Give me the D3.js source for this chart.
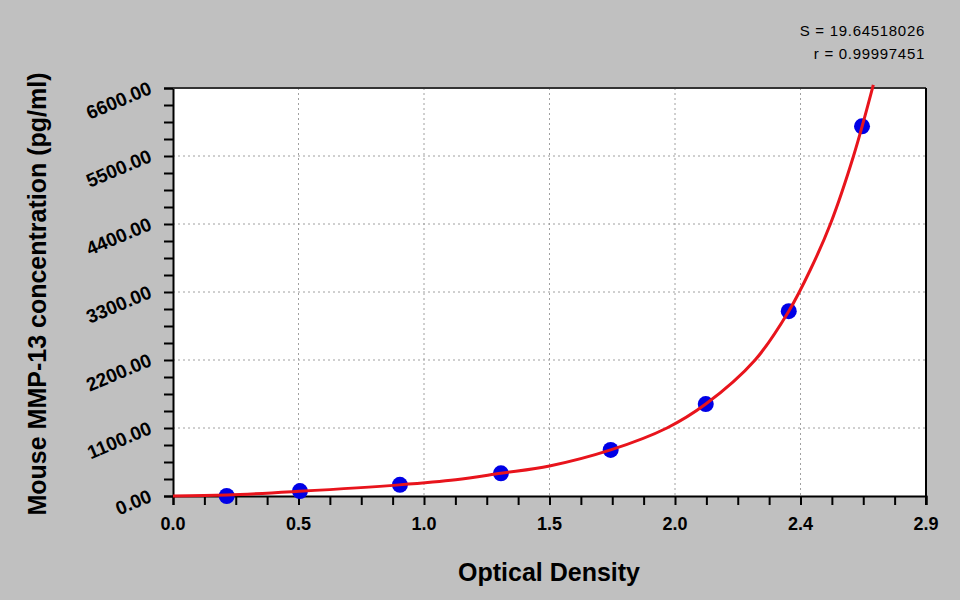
<!DOCTYPE html>
<html>
<head>
<meta charset="utf-8">
<script src="https://cdn.jsdelivr.net/npm/d3@7"></script>
<style>
  body { margin: 0; background: #c0c0c0; }
  svg { display: block; font-family: "Liberation Sans", Arial, sans-serif; }
</style>
</head>
<body>
<div id="graph_01"></div>
<script>
// Standard points (OD, concentration)
const pointOD = [0.209, 0.494, 0.883, 1.276, 1.703, 2.073, 2.396, 2.681];
const pointConc = [0, 80, 180, 367, 745, 1487, 2990, 5980];

// Fitted curve
const curveOD = [0.00, 0.21, 0.49, 0.88, 1.10, 1.276, 1.465, 1.703, 1.922, 2.073, 2.265, 2.396, 2.48, 2.558, 2.648, 2.725];
const curveConc = [0, 15, 75, 180, 262, 367, 485, 745, 1100, 1487, 2200, 2990, 3660, 4400, 5500, 6650];

// Axes
const xTicks = [0, 1, 2, 3, 4, 5, 6].map(i => i * 2.93 / 6);
const yTicks = [0, 1100, 2200, 3300, 4400, 5500, 6600];
const statLines = ['S = 19.64518026', 'r = 0.99997451'];

const width = 960;
const height = 600;
const margin = { top: 88, right: 34, bottom: 104, left: 173 };

const svg = d3.select('#graph_01')
  .append('svg')
  .attr('width', width)
  .attr('height', height);

svg.append('rect')
  .attr('width', width)
  .attr('height', height)
  .attr('fill', '#c0c0c0');

//---------------------------------------------------------------------------------------

// Échelles

const scaleX = d3.scaleLinear()
  .domain([0, 2.93])
  .range([margin.left, width - margin.right]);

const scaleY = d3.scaleLinear()
  .domain([0, 6600])
  .range([height - margin.bottom, margin.top]);

const x0 = scaleX.range()[0], x1 = scaleX.range()[1];
const y0 = scaleY.range()[0], y1 = scaleY.range()[1];

// fond blanc du graphe
svg.append('rect')
  .attr('x', x0)
  .attr('y', y1)
  .attr('width', x1 - x0)
  .attr('height', y0 - y1)
  .attr('fill', '#fff');

//---------------------------------------------------------------------------------------

// Grille pointillée

svg.append('g')
  .selectAll('line')
  .data(xTicks.slice(1, -1))
  .join('line')
  .attr('x1', d => scaleX(d)).attr('x2', d => scaleX(d))
  .attr('y1', y1).attr('y2', y0)
  .attr('stroke', '#a0a0a0')
  .attr('stroke-dasharray', '2,3');

svg.append('g')
  .selectAll('line')
  .data(yTicks.slice(1, -1))
  .join('line')
  .attr('x1', x0).attr('x2', x1)
  .attr('y1', d => scaleY(d)).attr('y2', d => scaleY(d))
  .attr('stroke', '#a0a0a0')
  .attr('stroke-dasharray', '2,3');

//---------------------------------------------------------------------------------------

// Axes

const xMinor = d3.range(0, 25).map(i => i * 2.93 / 24);
const yMinor = d3.range(0, 25).map(i => i * 6600 / 24);

const axisX = svg.append('g')
  .attr('transform', `translate(0,${y0})`)
  .call(d3.axisBottom(scaleX).tickValues(xMinor).tickSize(9).tickFormat(''));
axisX.select('.domain').attr('stroke-width', 2);
axisX.selectAll('.tick line').attr('stroke-width', 2);

svg.append('g')
  .selectAll('text')
  .data(xTicks)
  .join('text')
  .attr('x', d => scaleX(d))
  .attr('y', y0 + 34)
  .attr('text-anchor', 'middle')
  .attr('font-size', 18)
  .attr('font-weight', 'bold')
  .text(d => d3.format('.1f')(d));

const axisY = svg.append('g')
  .attr('transform', `translate(${x0},0)`)
  .call(d3.axisLeft(scaleY).tickValues(yMinor).tickSize(9).tickFormat(''));
axisY.select('.domain').attr('stroke-width', 2);
axisY.selectAll('.tick line').attr('stroke-width', 2);

svg.append('g')
  .selectAll('text')
  .data(yTicks)
  .join('text')
  .attr('transform', d => `translate(${x0 - 20},${scaleY(d) + 5}) rotate(-23)`)
  .attr('text-anchor', 'end')
  .attr('font-size', 19)
  .attr('font-weight', 'bold')
  .text(d => d3.format('.2f')(d));

// cadre haut et droit
svg.append('line')
  .attr('x1', x0).attr('x2', x1)
  .attr('y1', y1).attr('y2', y1)
  .attr('stroke', '#333').attr('stroke-width', 2);
svg.append('line')
  .attr('x1', x1).attr('x2', x1)
  .attr('y1', y1).attr('y2', y0 + 9)
  .attr('stroke', '#000').attr('stroke-width', 2);

//---------------------------------------------------------------------------------------

// Titres des axes

svg.append('text')
  .attr('x', 549)
  .attr('y', 581)
  .attr('text-anchor', 'middle')
  .attr('font-size', 25)
  .attr('font-weight', 'bold')
  .text('Optical Density');

svg.append('text')
  .attr('transform', `translate(46,294) rotate(-90)`)
  .attr('text-anchor', 'middle')
  .attr('font-size', 25)
  .attr('font-weight', 'bold')
  .text('Mouse MMP-13 concentration (pg/ml)');

// Statistiques
svg.append('g')
  .selectAll('text')
  .data(statLines)
  .join('text')
  .attr('x', 925)
  .attr('y', (d, i) => 36 + i * 23)
  .attr('text-anchor', 'end')
  .attr('font-size', 15)
  .attr('letter-spacing', 0.7)
  .text(d => d);

//---------------------------------------------------------------------------------------

// Points et courbe

svg.append('g')
  .selectAll('circle')
  .data(pointOD.map((d, i) => [d, pointConc[i]]))
  .join('circle')
  .attr('cx', d => scaleX(d[0]))
  .attr('cy', d => scaleY(d[1]))
  .attr('r', 8)
  .attr('fill', '#0000e6');

const line = d3.line()
  .x(d => scaleX(d[0]))
  .y(d => scaleY(d[1]))
  .curve(d3.curveCatmullRom.alpha(0.5));

svg.append('path')
  .datum(curveOD.map((d, i) => [d, curveConc[i]]))
  .attr('d', line)
  .attr('fill', 'none')
  .attr('stroke', '#e8141c')
  .attr('stroke-width', 3);
</script>
</body>
</html>
